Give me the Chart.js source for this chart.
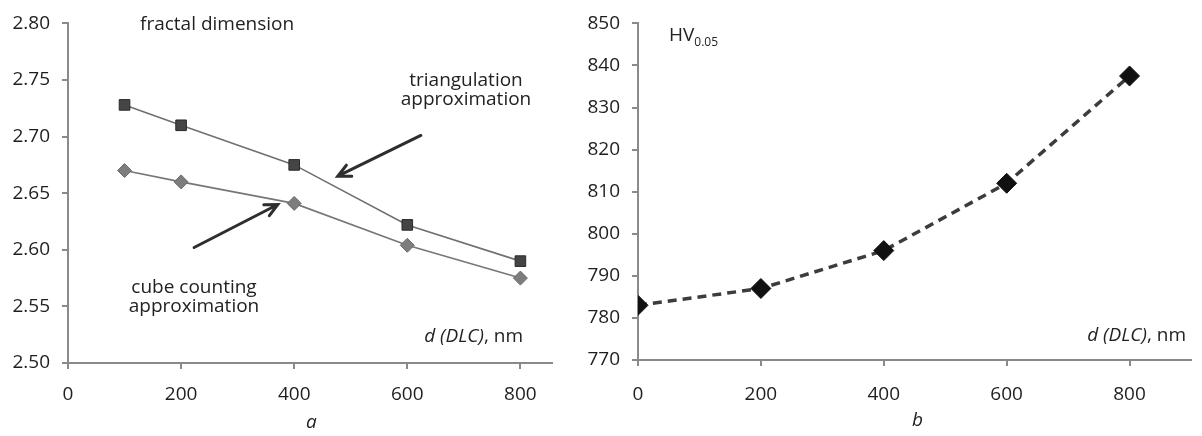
<!DOCTYPE html>
<html>
<head>
<meta charset="utf-8">
<script src="https://cdn.jsdelivr.net/npm/chart.js@4/dist/chart.umd.min.js"></script>
<style>
body{margin:0;background:#fff;width:1202px;height:436px;overflow:hidden;position:relative;font-family:"Open Sans",sans-serif}
.box{position:absolute;top:0;height:436px}
#left{left:0;width:560px}
#right{left:560px;width:642px}
.cap{position:absolute;font-style:italic;font-size:19px;color:#222;line-height:1}
</style>
</head>
<body>
<div class="box" id="left"><canvas id="chartA"></canvas></div>
<div class="box" id="right"><canvas id="chartB"></canvas></div>
<div class="cap" style="left:306px;top:412px">a</div>
<div class="cap" style="left:912px;top:410px">b</div>
<script>
// panel a: fractal dimension vs DLC thickness
const thicknessA = [100, 200, 400, 600, 800];
const triangulation = [2.728, 2.710, 2.675, 2.622, 2.590];
const cubeCounting = [2.670, 2.660, 2.641, 2.604, 2.575];
const yTicksA = [2.50, 2.55, 2.60, 2.65, 2.70, 2.75, 2.80];

// panel b: microhardness vs DLC thickness
const thicknessB = [0, 200, 400, 600, 800];
const hardness = [783, 787, 796, 812, 837.5];
const yTicksB = [770, 780, 790, 800, 810, 820, 830, 840, 850];

const xTicks = [0, 200, 400, 600, 800];

const FONT = '"Open Sans", sans-serif';
const AXIS = '#8a8a8a';
const SIZE = 19;

function pts(xs, ys) {
    return xs.map((x, i) => ({x: x, y: ys[i]}));
}

function axes(xMax, yMin, yMax, yTicks, yWidth, xHeight, xPad, digits) {
    const grid = {drawOnChartArea: false, drawTicks: true, tickLength: 6, color: AXIS, lineWidth: 2};
    const border = {display: true, color: AXIS, width: 2};
    return {
        x: {
            type: 'linear', min: 0, max: xMax,
            grid: grid, border: border,
            ticks: {color: '#1e1e1e', font: {family: FONT, size: SIZE}, padding: xPad, maxRotation: 0},
            afterBuildTicks: a => { a.ticks = xTicks.map(v => ({value: v})); },
            afterFit: a => { a.height = xHeight; }
        },
        y: {
            type: 'linear', min: yMin, max: yMax,
            grid: grid, border: border,
            ticks: {color: '#1e1e1e', font: {family: FONT, size: SIZE}, padding: 12,
                    callback: v => v.toFixed(digits)},
            afterBuildTicks: a => { a.ticks = yTicks.map(v => ({value: v})); },
            afterFit: a => { a.width = yWidth; }
        }
    };
}

function arrow(ctx, x1, y1, x2, y2) {
    const ang = Math.atan2(y2 - y1, x2 - x1);
    const h = 14;
    ctx.save();
    ctx.strokeStyle = '#2e2e2e';
    ctx.lineWidth = 3;
    ctx.lineCap = 'round';
    ctx.beginPath();
    ctx.moveTo(x1, y1);
    ctx.lineTo(x2, y2);
    ctx.moveTo(x2 - h * Math.cos(ang - 0.45), y2 - h * Math.sin(ang - 0.45));
    ctx.lineTo(x2, y2);
    ctx.lineTo(x2 - h * Math.cos(ang + 0.45), y2 - h * Math.sin(ang + 0.45));
    ctx.stroke();
    ctx.restore();
}

function label(ctx, text, x, y, align, italic) {
    ctx.save();
    ctx.fillStyle = '#222';
    ctx.font = (italic ? 'italic ' : '') + SIZE + 'px ' + FONT;
    ctx.textAlign = align;
    ctx.textBaseline = 'middle';
    ctx.fillText(text, x, y);
    ctx.restore();
}

// "d (DLC), nm" with the italic part, right aligned at x
function axisTitle(ctx, right, y) {
    ctx.save();
    ctx.font = SIZE + 'px ' + FONT;
    const w = ctx.measureText(', nm').width;
    ctx.restore();
    label(ctx, ', nm', right, y, 'right');
    label(ctx, 'd (DLC)', right - w, y, 'right', true);
}

const notesA = {
    id: 'notesA',
    afterDatasetsDraw(chart) {
        const {ctx, scales: {x, y}} = chart;
        label(ctx, 'fractal dimension', 140, 25, 'left');
        label(ctx, 'triangulation', 466, 81, 'center');
        label(ctx, 'approximation', 466, 100, 'center');
        label(ctx, 'cube counting', 194, 288, 'center');
        label(ctx, 'approximation', 194, 307, 'center');
        axisTitle(ctx, 523, 337);
        arrow(ctx, x.getPixelForValue(624), y.getPixelForValue(2.701),
                   x.getPixelForValue(477), y.getPixelForValue(2.665));
        arrow(ctx, x.getPixelForValue(223), y.getPixelForValue(2.602),
                   x.getPixelForValue(371), y.getPixelForValue(2.640));
    }
};

const notesB = {
    id: 'notesB',
    afterDatasetsDraw(chart) {
        const {ctx} = chart;
        ctx.save();
        ctx.fillStyle = '#222';
        ctx.textBaseline = 'alphabetic';
        ctx.font = SIZE + 'px ' + FONT;
        ctx.fillText('HV', 109, 41);
        const w = ctx.measureText('HV').width;
        ctx.font = '12px ' + FONT;
        ctx.fillText('0.05', 109 + w, 46);
        ctx.restore();
        axisTitle(ctx, 626, 336);
    }
};

new Chart(document.getElementById('chartA'), {
    type: 'scatter',
    data: {
        datasets: [
            {
                label: 'triangulation approximation',
                data: pts(thicknessA, triangulation),
                showLine: true,
                borderColor: '#707070',
                borderWidth: 1.6,
                pointStyle: 'rect',
                pointRadius: 7.5,
                pointBackgroundColor: '#454545',
                pointBorderColor: '#2a2a2a',
                pointBorderWidth: 1
            },
            {
                label: 'cube counting approximation',
                data: pts(thicknessA, cubeCounting),
                showLine: true,
                borderColor: '#777',
                borderWidth: 1.6,
                pointStyle: 'rectRot',
                pointRadius: 7,
                pointBackgroundColor: '#7d7d7d',
                pointBorderColor: '#6a6a6a',
                pointBorderWidth: 1
            }
        ]
    },
    options: {
        responsive: true,
        maintainAspectRatio: false,
        animation: false,
        layout: {padding: {top: 17, right: 5, left: 0, bottom: 0}},
        plugins: {legend: {display: false}, tooltip: {enabled: false}},
        scales: axes(855, 2.5, 2.8, yTicksA, 68, 73, 14, 2)
    },
    plugins: [notesA]
});

new Chart(document.getElementById('chartB'), {
    type: 'scatter',
    data: {
        datasets: [{
            label: 'HV0.05',
            data: pts(thicknessB, hardness),
            showLine: true,
            borderColor: '#3c3c3c',
            borderWidth: 3.5,
            borderDash: [9, 6],
            pointStyle: 'rectRot',
            pointRadius: 10,
            pointBackgroundColor: '#111',
            pointBorderColor: '#111',
            pointBorderWidth: 1
        }]
    },
    options: {
        responsive: true,
        maintainAspectRatio: false,
        animation: false,
        layout: {padding: {top: 17, right: 0, left: 0, bottom: 0}},
        plugins: {legend: {display: false}, tooltip: {enabled: false}},
        scales: axes(900, 770, 850, yTicksB, 78, 76, 17, 0)
    },
    plugins: [notesB]
});
</script>
</body>
</html>
